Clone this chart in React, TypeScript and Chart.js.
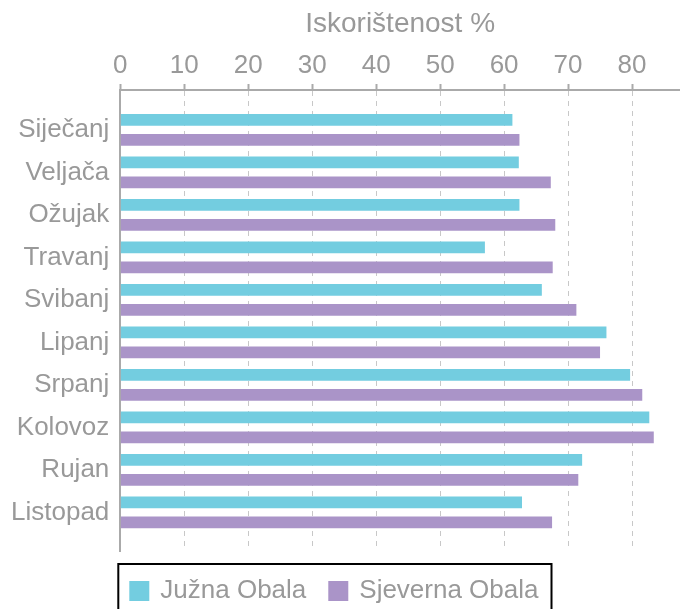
import { useEffect, useRef } from 'react';
import { Chart, registerables } from 'chart.js';

Chart.register(...registerables);

const months = ['Siječanj', 'Veljača', 'Ožujak', 'Travanj', 'Svibanj', 'Lipanj', 'Srpanj', 'Kolovoz', 'Rujan', 'Listopad'];
const juznaObala = [61.3, 62.3, 62.4, 57.0, 65.9, 76.0, 79.7, 82.7, 72.2, 62.8];
const sjevernaObala = [62.4, 67.3, 68.0, 67.6, 71.3, 75.0, 81.6, 83.4, 71.6, 67.5];
const seriesNames = ['Južna Obala', 'Sjeverna Obala'];
const seriesColors = ['#73CDE0', '#AA94C8'];
const axisTitle = 'Iskorištenost %';
const xTickStep = 10;
const xMax = 87.5;

const FONT = '"Liberation Sans", Arial, sans-serif';
const TEXT = '#999999';

const boxLegend = {
  id: 'boxLegend',
  afterDraw(chart: any) {
    const { ctx, chartArea } = chart;
    const sets = chart.data.datasets;
    ctx.save();
    ctx.font = `26px ${FONT}`;
    ctx.textBaseline = 'middle';
    ctx.textAlign = 'left';
    const cy = chartArea.bottom + 40;
    const box = 20;
    let x = chartArea.left + 9;
    const startX = x;
    let endX = x;
    sets.forEach((ds: any) => {
      ctx.fillStyle = ds.backgroundColor;
      ctx.fillRect(x, cy - box / 2, box, box);
      ctx.fillStyle = TEXT;
      const tx = x + box + 11;
      ctx.fillText(ds.label, tx, cy);
      const w = ctx.measureText(ds.label).width;
      endX = tx + w;
      x = endX + 22;
    });
    ctx.strokeStyle = '#000';
    ctx.lineWidth = 2;
    ctx.strokeRect(startX - 11, chartArea.bottom + 13, endX - startX + 24, 80);
    ctx.restore();
  },
};

export default function App() {
  const ref = useRef<HTMLCanvasElement | null>(null);
  useEffect(() => {
    document.body.style.margin = '0';
    if (!ref.current) return;
    const toPoints = (vals: number[]) => vals.map((v, i) => ({ x: v, y: i }));
    const chart = new Chart(ref.current, {
      type: 'bar',
      data: {
        datasets: [
          {
            label: seriesNames[0],
            data: toPoints(juznaObala),
            backgroundColor: seriesColors[0],
            categoryPercentage: 0.94,
            barPercentage: 0.585,
          },
          {
            label: seriesNames[1],
            data: toPoints(sjevernaObala),
            backgroundColor: seriesColors[1],
            categoryPercentage: 0.94,
            barPercentage: 0.585,
          },
        ],
      },
      options: {
        indexAxis: 'y',
        animation: false,
        responsive: false,
        layout: { padding: { top: 0, right: 0, left: 0, bottom: 58 } },
        plugins: {
          legend: { display: false },
          tooltip: { enabled: false },
        },
        scales: {
          x: {
            type: 'linear',
            position: 'top',
            min: 0,
            max: xMax,
            title: {
              display: true,
              text: axisTitle,
              color: TEXT,
              font: { family: FONT, size: 28 },
              padding: { top: 7.7, bottom: 5.5 },
            },
            ticks: {
              stepSize: xTickStep,
              includeBounds: false,
              color: TEXT,
              font: { family: FONT, size: 26 },
              padding: 3,
              maxRotation: 0,
            },
            grid: {
              color: '#c8c8c8',
              lineWidth: 1,
              tickLength: 6,
              tickColor: '#aaaaaa',
              tickWidth: 2,
              tickBorderDash: [],
            },
            border: { display: true, color: '#aaaaaa', width: 2, dash: [5, 5] },
          },
          y: {
            type: 'linear',
            reverse: true,
            offset: false,
            min: -0.94,
            max: 9.91,
            ticks: {
              stepSize: 1,
              includeBounds: false,
              autoSkip: false,
              color: TEXT,
              font: { family: FONT, size: 26 },
              padding: 11,
              callback: (v: any) => {
                const n = Number(v);
                return Number.isInteger(n) && n >= 0 && n < months.length ? months[n] : '';
              },
            },
            grid: { display: false, drawTicks: false, offset: false },
            border: { display: true, color: '#aaaaaa', width: 2 },
          },
        },
      },
      plugins: [boxLegend],
    } as any);
    return () => chart.destroy();
  }, []);
  return <canvas ref={ref} width={680} height={609} style={{ display: 'block' }} />;
}
